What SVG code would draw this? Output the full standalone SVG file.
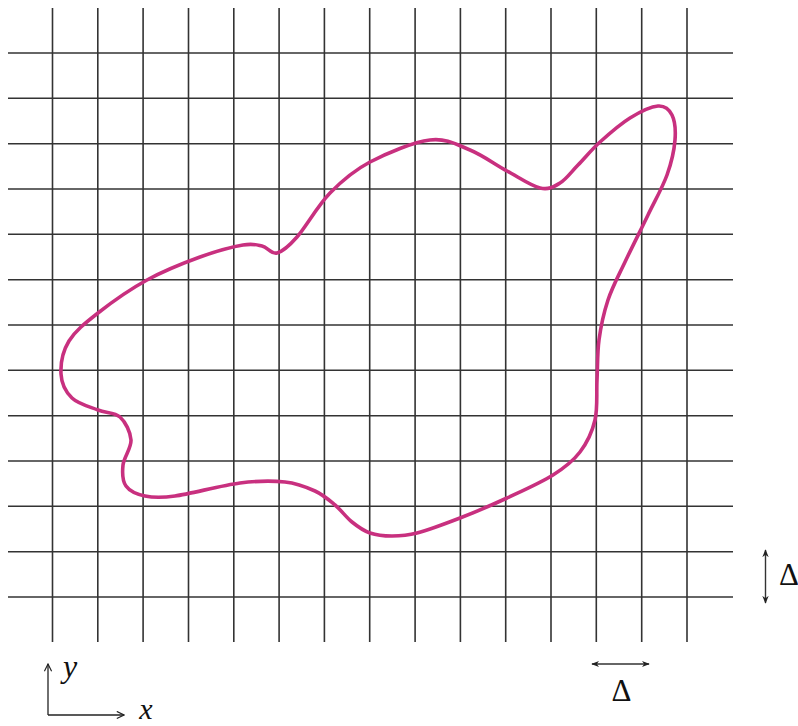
<svg xmlns="http://www.w3.org/2000/svg" width="798" height="726" viewBox="0 0 798 726">
<defs>
<style>
.grid line{stroke:#333;stroke-width:1.6}
.curve{fill:none;stroke:#C8307F;stroke-width:3.6;stroke-linejoin:round}
.dim{stroke:#333;stroke-width:1.4;fill:none}
.ax{stroke:#222;stroke-width:1.3;fill:none}
</style>
<marker id="fh" viewBox="0 0 10 10" refX="9" refY="5" markerWidth="8" markerHeight="8" markerUnits="userSpaceOnUse" orient="auto-start-reverse">
<path d="M0,1 L10,5 L0,9 L3,5 Z" fill="#222"/>
</marker>
<marker id="oh" viewBox="0 0 10 10" refX="9" refY="5" markerWidth="9" markerHeight="9" markerUnits="userSpaceOnUse" orient="auto">
<path d="M1,1 L9,5 L1,9" fill="none" stroke="#222" stroke-width="1.3"/>
</marker>
</defs>
<rect width="798" height="726" fill="#fff"/>
<g id="grid" class="grid">
<line x1="52.5" y1="8" x2="52.5" y2="642"/>
<line x1="97.8" y1="8" x2="97.8" y2="642"/>
<line x1="143.1" y1="8" x2="143.1" y2="642"/>
<line x1="188.5" y1="8" x2="188.5" y2="642"/>
<line x1="233.8" y1="8" x2="233.8" y2="642"/>
<line x1="279.1" y1="8" x2="279.1" y2="642"/>
<line x1="324.4" y1="8" x2="324.4" y2="642"/>
<line x1="369.7" y1="8" x2="369.7" y2="642"/>
<line x1="415.1" y1="8" x2="415.1" y2="642"/>
<line x1="460.4" y1="8" x2="460.4" y2="642"/>
<line x1="505.7" y1="8" x2="505.7" y2="642"/>
<line x1="551" y1="8" x2="551" y2="642"/>
<line x1="596.3" y1="8" x2="596.3" y2="642"/>
<line x1="641.7" y1="8" x2="641.7" y2="642"/>
<line x1="687" y1="8" x2="687" y2="642"/>
<line x1="8" y1="53" x2="733" y2="53"/>
<line x1="8" y1="98.3" x2="733" y2="98.3"/>
<line x1="8" y1="143.7" x2="733" y2="143.7"/>
<line x1="8" y1="189" x2="733" y2="189"/>
<line x1="8" y1="234.3" x2="733" y2="234.3"/>
<line x1="8" y1="279.7" x2="733" y2="279.7"/>
<line x1="8" y1="325" x2="733" y2="325"/>
<line x1="8" y1="370.3" x2="733" y2="370.3"/>
<line x1="8" y1="415.7" x2="733" y2="415.7"/>
<line x1="8" y1="461" x2="733" y2="461"/>
<line x1="8" y1="506.3" x2="733" y2="506.3"/>
<line x1="8" y1="551.7" x2="733" y2="551.7"/>
<line x1="8" y1="597" x2="733" y2="597"/>
</g>
<g id="region">
<path class="curve" d="M61 374 C60.5 364.5 62.8 351.2 69 341 S85 323.2 98 313 S130 289.3 147 280 S184 262.8 200 257 S232.7 246.8 243 245 S256.3 244.7 262 246 S271.2 254.5 277 253 S288.2 247 297 237 S317.8 205.5 330 193 S353.3 170.8 370 162 S413.3 142 430 140 S457.2 144.8 470 150 S495.3 164.7 507 171 S531.2 186 540 188 S553.7 186.8 560 183 S571.3 171.8 578 165 S591.3 149.8 600 142 S620.3 124 630 118 S651 106.5 658 106 S669.2 109.3 672 115 S675.8 130 675 140 S671.5 162.5 667 175 S655 200.5 648 215 S631.7 247.8 625 262 S612.3 287 608 300 S600.8 326.7 599 340 S597.7 366.7 597 380 S597.8 408 595 420 S587 442.8 580 452 S565.2 467.3 553 475 S522.5 490.8 507 498 S475 512.2 460 518 S428.3 530 417 533 S399.8 536 392 536 S376.7 535.3 370 533 S357.8 526.7 352 522 S341.2 510.2 335 505 S323.3 494.8 315 491 S297.5 483.3 285 482 S258.3 480.7 240 483 S190.8 493.8 175 496 S153.2 497.7 145 496 S129.7 491.2 126 486 S122.2 472.7 123 465 S131.5 448 131 440 S125.5 422 120 417 S106 413.2 98 410 S78.2 404 72 398 S61.5 383.5 61 374 Z"/>
</g>
<g id="connectors">
<line class="dim" x1="765.5" y1="550" x2="765.5" y2="603" marker-start="url(#fh)" marker-end="url(#fh)"/>
<line class="dim" x1="592" y1="664" x2="649" y2="664" marker-start="url(#fh)" marker-end="url(#fh)"/>
<line class="ax" x1="48" y1="715" x2="48" y2="664" marker-end="url(#oh)"/>
<line class="ax" x1="48" y1="715" x2="124" y2="715" marker-end="url(#oh)"/>
</g>
<g id="labels" font-family="'Liberation Serif', 'Times New Roman', 'DejaVu Serif', serif" fill="#111">
<text x="789" y="585" font-size="31" text-anchor="middle">Δ</text>
<text x="621.5" y="701" font-size="31" text-anchor="middle">Δ</text>
<text x="70" y="677" font-size="32" font-style="italic" text-anchor="middle">y</text>
<text x="146" y="719" font-size="30" font-style="italic" text-anchor="middle">x</text>
</g>
</svg>
